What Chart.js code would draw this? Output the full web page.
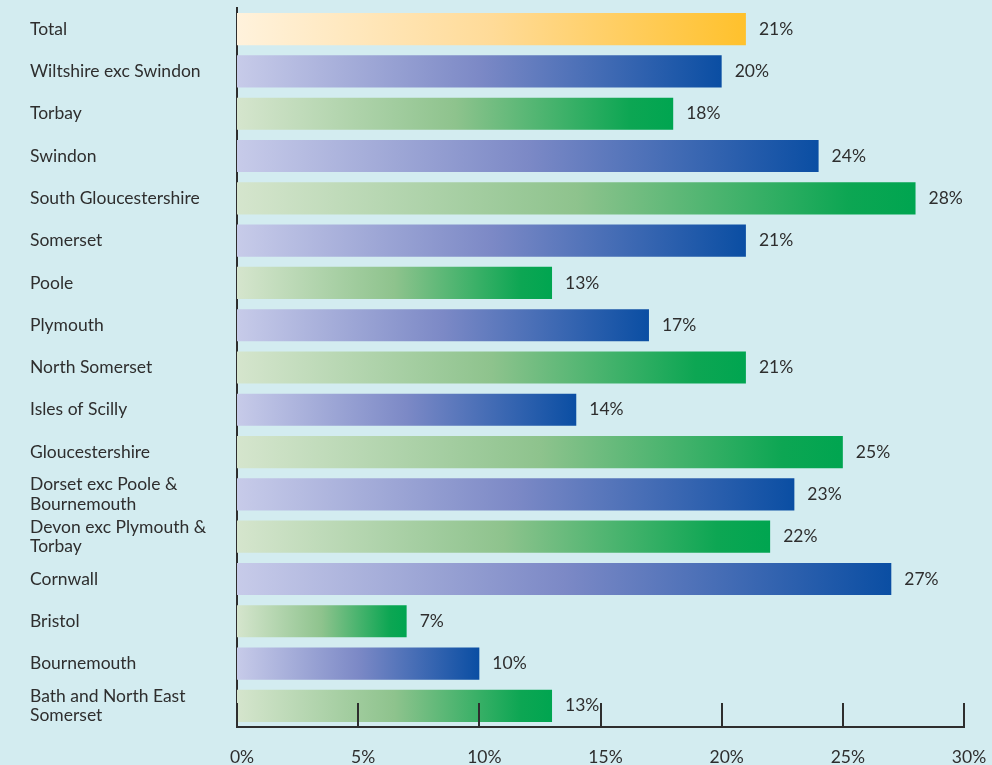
<!DOCTYPE html>
<html>
<head>
<meta charset="utf-8">
<script src="https://cdn.jsdelivr.net/npm/chart.js@4/dist/chart.umd.min.js"></script>
<style>
  html, body { margin: 0; padding: 0; background: #d3ecf0; }
  #wrap { width: 992px; height: 765px; position: relative; }
</style>
</head>
<body>
<div id="wrap"><canvas id="chart"></canvas></div>
<script>
// Share of residents by area (percent)
const areas = [
  'Total',
  'Wiltshire exc Swindon',
  'Torbay',
  'Swindon',
  'South Gloucestershire',
  'Somerset',
  'Poole',
  'Plymouth',
  'North Somerset',
  'Isles of Scilly',
  'Gloucestershire',
  ['Dorset exc Poole &', 'Bournemouth'],
  ['Devon exc Plymouth &', 'Torbay'],
  'Cornwall',
  'Bristol',
  'Bournemouth',
  ['Bath and North East', 'Somerset']
];
const shares = [21, 20, 18, 24, 28, 21, 13, 17, 21, 14, 25, 23, 22, 27, 7, 10, 13];
const axisTicks = [0, 5, 10, 15, 20, 25, 30];

const FONT = 'Lato, "Noto Sans", sans-serif';
const INK = '#2e2e2e';
const TEXT_SIZE = 17.5;

// Gradient ramps: total row, then alternating blue / green rows
const ramps = {
  total: [[0, '#fff2dc'], [0.5, '#ffdb98'], [1, '#ffc12c']],
  blue:  [[0, '#c7cbe9'], [0.5, '#7c89c6'], [1, '#0a4ea3']],
  green: [[0, '#d5e5cd'], [0.5, '#8ec38d'], [0.9, '#0da653'], [1, '#00a550']]
};
function rampFor(i) {
  if (i === 0) return ramps.total;
  return i % 2 === 1 ? ramps.blue : ramps.green;
}

// Each bar fades from the axis to its own end
function barFill(ctx) {
  const chart = ctx.chart;
  const area = chart.chartArea;
  const ramp = rampFor(ctx.dataIndex);
  if (!area) return ramp[ramp.length - 1][1];
  const xs = chart.scales.x;
  const x0 = xs.getPixelForValue(0);
  const x1 = xs.getPixelForValue(shares[ctx.dataIndex]);
  const g = chart.ctx.createLinearGradient(x0, 0, Math.max(x1, x0 + 1), 0);
  ramp.forEach(([stop, color]) => g.addColorStop(stop, color));
  return g;
}

// Value labels just past the bar ends
const valueLabels = {
  id: 'valueLabels',
  afterDatasetsDraw(chart) {
    const { ctx } = chart;
    const meta = chart.getDatasetMeta(0);
    ctx.save();
    ctx.font = TEXT_SIZE + 'px ' + FONT;
    ctx.fillStyle = INK;
    ctx.textAlign = 'left';
    ctx.textBaseline = 'middle';
    meta.data.forEach((bar, i) => {
      ctx.fillText(shares[i] + '%', bar.x + 13, bar.y);
    });
    ctx.restore();
  }
};

// Tick marks rising from the bottom axis into the plot
const upTicks = {
  id: 'upTicks',
  afterDraw(chart) {
    const { ctx, chartArea } = chart;
    const xs = chart.scales.x;
    ctx.save();
    ctx.strokeStyle = INK;
    ctx.lineWidth = 2;
    xs.ticks.forEach((t, i) => {
      const x = Math.round(xs.getPixelForTick(i));
      ctx.beginPath();
      ctx.moveTo(x, chartArea.bottom);
      ctx.lineTo(x, chartArea.bottom - 24);
      ctx.stroke();
    });
    ctx.restore();
  }
};

new Chart(document.getElementById('chart'), {
  type: 'bar',
  data: {
    labels: areas,
    datasets: [{
      data: shares,
      backgroundColor: barFill,
      borderWidth: 0,
      barPercentage: 0.76,
      categoryPercentage: 1
    }]
  },
  options: {
    indexAxis: 'y',
    responsive: true,
    maintainAspectRatio: false,
    animation: false,
    layout: { padding: { left: 30, right: 28, top: 8, bottom: 0 } },
    plugins: {
      legend: { display: false },
      tooltip: { enabled: false }
    },
    scales: {
      x: {
        min: 0,
        max: 30,
        afterBuildTicks(scale) {
          scale.ticks = axisTicks.map(v => ({ value: v }));
        },
        afterFit(scale) {
          scale.height = 38;
          scale.paddingLeft = 0;
          scale.paddingRight = 0;
        },
        grid: { display: false, drawTicks: false },
        border: { display: true, color: INK, width: 2 },
        ticks: {
          color: INK,
          font: { family: FONT, size: TEXT_SIZE },
          padding: 20,
          labelOffset: 5,
          maxRotation: 0,
          callback: v => v + '%'
        }
      },
      y: {
        afterFit(scale) {
          scale.width = 207;
          scale.paddingTop = 0;
          scale.paddingBottom = 0;
        },
        grid: { display: false, drawTicks: false },
        border: { display: true, color: INK, width: 2 },
        ticks: {
          color: INK,
          font: { family: FONT, size: TEXT_SIZE, lineHeight: 1.1 },
          crossAlign: 'far',
          padding: 10,
          autoSkip: false
        }
      }
    }
  },
  plugins: [valueLabels, upTicks]
});
</script>
</body>
</html>
